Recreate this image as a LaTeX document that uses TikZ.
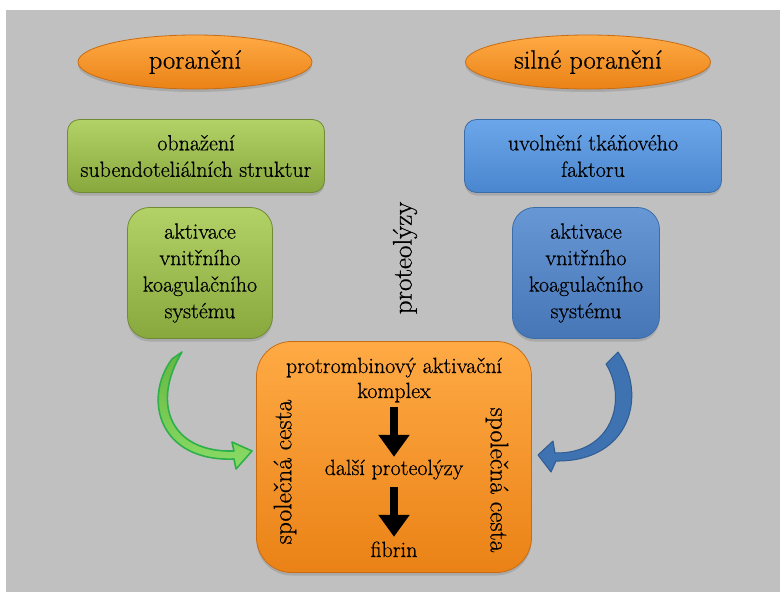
\documentclass[tikz,border=0pt]{standalone}
\usepackage{fontspec}
\setmainfont{Latin Modern Roman}[FakeBold=0.6,AutoFakeBold=0.6]
\usetikzlibrary{shapes.geometric,shadows,arrows.meta}
\definecolor{bggray}{HTML}{C0C0C0}
\definecolor{orT}{HTML}{FFAA45}
\definecolor{orB}{HTML}{EA8216}
\definecolor{orD}{HTML}{C86C14}
\definecolor{grT}{HTML}{B2D166}
\definecolor{grB}{HTML}{88A83E}
\definecolor{grD}{HTML}{6F8B33}
\definecolor{blT}{HTML}{6CA6EA}
\definecolor{blB}{HTML}{4A86CE}
\definecolor{blD}{HTML}{3A6DAA}
\definecolor{bltT}{HTML}{6797D4}
\definecolor{bltB}{HTML}{4676B6}
\definecolor{garrowF}{HTML}{8ADC66}
\definecolor{garrowT}{HTML}{66B642}
\definecolor{garrowD}{HTML}{2DB04A}
\definecolor{barrowF}{HTML}{3F72B0}
\definecolor{barrowD}{HTML}{2F5C92}
\begin{document}
\begin{tikzpicture}[x=1pt,y=-1pt,
  shad/.style={drop shadow={shadow xshift=0pt,shadow yshift=-3pt,opacity=0.35}},
  oval/.style={ellipse,minimum width=234pt,minimum height=54pt,inner sep=0pt,
    top color=orT,bottom color=orB,draw=orD,line width=0.8pt,shad,
    font=\fontsize{26.5}{30}\selectfont},
  txt/.style={font=\fontsize{22}{26.5}\selectfont,align=center,text=black},
  gbox/.style={rectangle,rounded corners=12pt,top color=grT,bottom color=grB,
    draw=grD,line width=0.8pt,shad,txt,inner sep=0pt},
  bbox/.style={rectangle,rounded corners=12pt,top color=blT,bottom color=blB,
    draw=blD,line width=0.8pt,shad,txt,inner sep=0pt},
  obox/.style={rectangle,rounded corners=35pt,top color=orT,bottom color=orB,
    draw=orD,line width=0.8pt,shad,inner sep=0pt},
  intxt/.style={txt,inner sep=0pt,text height=15pt,text depth=5pt},
  vtxt/.style={font=\fontsize{25.5}{30}\selectfont,inner sep=0pt},
  thick arrow/.style={line width=8pt,-{Triangle[length=22pt,width=30pt]}}
]
\useasboundingbox (0,0) rectangle (780,592);
\fill[bggray] (6,10) rectangle (780,592);

% ovals
\node[oval] (inj) at (195,62) {poranění};
\node[oval,minimum width=245pt] (sinj) at (588,62) {silné poranění};

% green boxes
\node[gbox,minimum width=257pt,minimum height=73pt] (g1) at (196,156)
  {obnažení\\subendoteliálních struktur};
\node[gbox,rounded corners=22pt,minimum width=145pt,minimum height=131pt] (g2) at (200,273)
  {aktivace\\vnitřního\\koagulačního\\systému};

% blue boxes
\node[bbox,minimum width=257pt,minimum height=73pt] (b1) at (593,156)
  {uvolnění tkáňového\\faktoru};
\node[bbox,rounded corners=22pt,top color=bltT,bottom color=bltB,
  minimum width=147pt,minimum height=131pt] (b2) at (586,273)
  {aktivace\\vnitřního\\koagulačního\\systému};

% proteolyzy
\node[vtxt,font=\fontsize{27}{30}\selectfont,rotate=90] (prot) at (405,258) {proteolýzy};

% orange box
\node[obox,minimum width=275pt,minimum height=231pt] (ob) at (394,457) {};
\node[intxt] (t1) at (394,368) {protrombinový aktivační};
\node[intxt] (t2) at (394,393) {komplex};
\node[intxt] (t3) at (394,470) {další proteolýzy};
\node[intxt] (t4) at (394,552) {fibrin};
\draw[thick arrow,shorten <=4pt,shorten >=3pt] (t2.south) -- (t3.north);
\draw[thick arrow,shorten <=7pt,shorten >=5pt] (t3.south) -- (t4.north);
\node[vtxt,rotate=90] (sc1) at (285,472) {společná cesta};
\node[vtxt,rotate=-90] (sc2) at (497,480) {společná cesta};

% green curved arrow
\draw[garrowD,line width=1.6pt,top color=garrowT,bottom color=garrowF,line join=round]
  (172,359) .. controls (142,400) and (160,462) .. (234,459)
  -- (236,469) -- (252,451) -- (232,442) -- (234,451)
  .. controls (172,453) and (150,405) .. (182,352) -- cycle;

% blue curved arrow
\draw[barrowD,line width=1pt,fill=barrowF,line join=round]
  (618,352) .. controls (648,395) and (630,462) .. (556,461)
  -- (551,472) -- (538,455) -- (553,441) -- (555,453)
  .. controls (612,454) and (628,400) .. (606,364) -- cycle;
\end{tikzpicture}
\end{document}
